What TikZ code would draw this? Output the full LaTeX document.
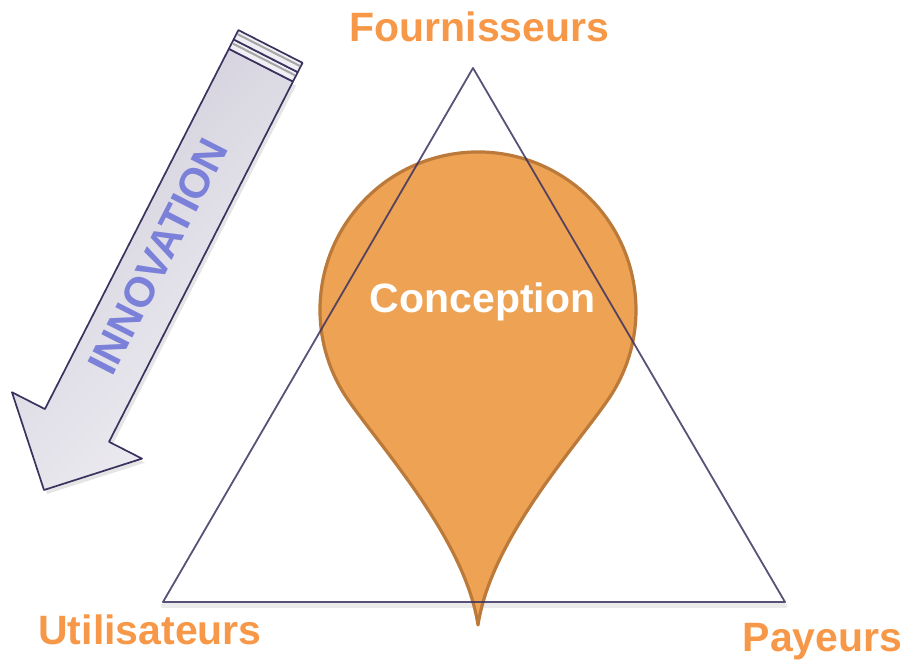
\documentclass[tikz,border=0pt]{standalone}
\usepackage{fontspec}
\setmainfont{Liberation Sans}
\definecolor{labelorange}{RGB}{247,152,72}
\definecolor{dropfill}{RGB}{237,162,84}
\definecolor{dropedge}{RGB}{188,122,58}
\definecolor{edgepurple}{RGB}{60,50,95}
\definecolor{innovblue}{RGB}{123,128,216}
\definecolor{arrowdark}{RGB}{208,205,218}
\definecolor{arrowlight}{RGB}{240,239,243}
\newcommand\innovarrow{(0,0) -- (72.5,-73) -- (72.5,-36) -- (477,-36) -- (477,36) -- (72.5,36) -- (72.5,73) -- cycle}
\begin{document}
\begin{tikzpicture}[x=1pt,y=1pt,line join=round,line cap=round]
		\tikzset{corner label/.style={font=\fontsize{41}{48}\selectfont\bfseries,text=labelorange,anchor=base,inner sep=0pt},
			edge line/.style={draw=edgepurple,line width=1.8pt},
			arrow line/.style={draw=edgepurple,line width=1.7pt}}
		\useasboundingbox (0,0) rectangle (907,660);
		% triangle
		\coordinate (F) at (473,592);
		\coordinate (U) at (163,58);
		\coordinate (P) at (785,58);
		\draw[black!8,line width=5pt] ([yshift=-4]U) -- ([yshift=-4]P);
		% drop
		\filldraw[fill=dropfill,draw=dropedge,line width=3.2pt] (607.4,259.4) arc[start angle=-35,end angle=215,radius=158]
			.. controls (383,210) and (465,120) .. (478,35) .. controls (491,120) and (573,210) .. cycle;
		\draw[edge line,draw opacity=.85] (F) -- (U) -- (P) -- cycle;
		\node[font=\fontsize{41}{48}\selectfont\bfseries,text=white,anchor=base,inner sep=0pt] (concept) at (482.5,347) {Conception};
		\node[corner label] (fourn) at (479.5,618) {Fournisseurs};
		\node[corner label] (util) at (150,15) {Utilisateurs};
		\node[corner label] (payeur) at (822.5,8) {Payeurs};
		% innovation arrow
		\begin{scope}[shift={(47,166)},rotate=62.95]
		\fill[black,opacity=.1] \innovarrow;
		\end{scope}
		\begin{scope}[shift={(44,170)},rotate=62.95]
		\shade[left color=arrowdark,right color=arrowlight,shading angle=45] \innovarrow;
		\draw[arrow line] \innovarrow;
		\draw[arrow line,fill=arrowlight] (477,-36) rectangle (487.5,36);
		\draw[arrow line,fill=arrowlight] (487.5,-36) rectangle (498,36);
		\draw[black!35,line width=2pt,line cap=butt] (483.5,-35) -- (483.5,35);
		\draw[black!35,line width=2pt,line cap=butt] (494,-35) -- (494,35);
		\node[transform shape,font=\fontsize{42}{48}\selectfont\bfseries,text=innovblue,inner sep=0pt] (innov) at (260,4.6) {INNOVATION};
		\end{scope}
\end{tikzpicture}
\end{document}
